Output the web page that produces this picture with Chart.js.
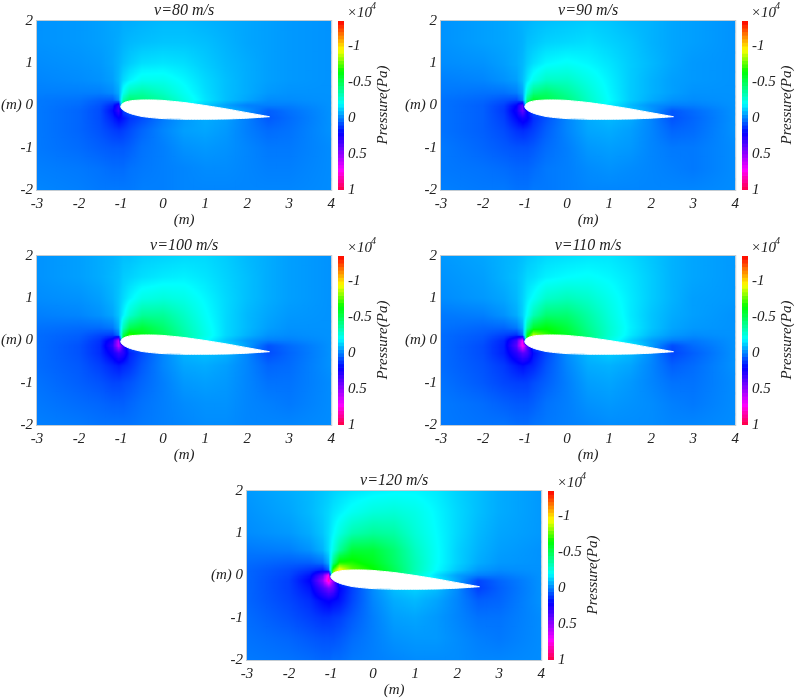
<!DOCTYPE html>
<html>
<head>
<meta charset="utf-8">
<script src="https://cdn.jsdelivr.net/npm/chart.js@4"></script>
<style>
  html, body { margin: 0; background: #fff; overflow: hidden; }
  #page { position: relative; width: 796px; height: 699px; overflow: hidden; }
  canvas { position: absolute; }
</style>
</head>
<body>
<div id="page"></div>
<script>
// --- DATA ---
const xNodes = [-3, -2, -1.5, -1.2, -1.05, -0.95, -0.8, -0.5, 0, 0.5, 1, 1.5, 2, 2.5, 3, 4];
const yNodes = [2, 1.5, 1, 0.6, 0.3, 0.12, 0, -0.12, -0.3, -0.6, -1, -1.5, -2];
const xTicks = [-3, -2, -1, 0, 1, 2, 3, 4];
const yTicks = [-2, -1, 0, 1, 2];
const colorTicks = [-1, -0.5, 0, 0.5, 1];
const colorBands = [-1.35, -1.3, -1.25, -1.2, -1.15, -1.1, -1.05, -1, -0.95, -0.9, -0.85, -0.8, -0.75, -0.7, -0.65, -0.6, -0.55, -0.5, -0.45, -0.4, -0.35, -0.3, -0.25, -0.2, -0.15, -0.1, -0.05, 0, 0.05, 0.1, 0.15, 0.2, 0.25, 0.3, 0.35, 0.4, 0.45, 0.5, 0.55, 0.6, 0.65, 0.7, 0.75, 0.8, 0.85, 0.9, 0.95, 1];

const airfoilX = [-1.01, -0.98, -0.9, -0.75, -0.5, -0.25, 0, 0.5, 1, 1.5, 2, 2.53];
const airfoilUpper = [-0.03, 0.03, 0.08, 0.115, 0.13, 0.13, 0.12, 0.07, 0, -0.08, -0.17, -0.265];
const airfoilLower = [-0.03, -0.08, -0.14, -0.2, -0.26, -0.29, -0.31, -0.325, -0.325, -0.32, -0.3, -0.265];

const pressure80 = [
  [-.03,-.04,-.05,-.06,-.06,-.07,-.07,-.08,-.09,-.09,-.08,-.07,-.06,-.05,-.04,-.03],
  [-.03,-.04,-.05,-.06,-.07,-.08,-.09,-.10,-.11,-.11,-.10,-.08,-.06,-.05,-.04,-.03],
  [-.02,-.03,-.04,-.06,-.08,-.10,-.12,-.15,-.16,-.15,-.12,-.09,-.07,-.05,-.04,-.03],
  [-.01,-.02,-.03,-.05,-.09,-.14,-.18,-.23,-.23,-.19,-.14,-.10,-.07,-.05,-.04,-.03],
  [0,0,0,-.02,-.07,-.22,-.33,-.36,-.30,-.22,-.15,-.10,-.07,-.04,-.03,-.03],
  [.01,.02,.05,.06,-.02,-.35,-.46,-.43,-.36,-.25,-.16,-.10,-.06,-.02,-.02,-.03],
  [.01,.03,.07,.14,.30,-.55,-.50,-.45,-.30,-.20,-.12,-.05,0,0,0,-.03],
  [.01,.04,.08,.18,.32,.10,.05,0,-.10,-.14,-.14,-.10,-.03,.05,.02,-.03],
  [.01,.04,.08,.15,.20,.17,.12,.08,.01,-.04,-.07,-.05,0,.06,.03,-.03],
  [.01,.04,.07,.10,.11,.10,.08,.04,-.01,-.05,-.06,-.04,0,.03,.02,-.03],
  [.01,.03,.05,.06,.06,.06,.05,.02,0,-.03,-.04,-.03,-.01,.01,.01,-.02],
  [0,.01,.02,.03,.03,.03,.02,.01,0,-.01,-.02,-.02,-.01,0,0,-.02],
  [-.01,0,.01,.01,.01,.01,.01,0,0,-.01,-.01,-.01,-.01,-.01,-.01,-.02]
];
const pressure90 = [
  [-.03,-.05,-.06,-.07,-.08,-.08,-.09,-.1,-.11,-.12,-.11,-.09,-.08,-.06,-.05,-.03],
  [-.03,-.05,-.06,-.07,-.08,-.1,-.11,-.13,-.14,-.15,-.13,-.11,-.08,-.06,-.05,-.03],
  [-.02,-.03,-.05,-.07,-.09,-.12,-.15,-.19,-.21,-.19,-.16,-.12,-.09,-.06,-.04,-.03],
  [0,-.01,-.03,-.05,-.1,-.16,-.23,-.3,-.3,-.24,-.18,-.12,-.08,-.05,-.04,-.03],
  [.01,.02,.02,0,-.06,-.27,-.42,-.46,-.38,-.28,-.19,-.12,-.08,-.05,-.03,-.03],
  [.02,.04,.07,.09,0,-.42,-.58,-.52,-.43,-.3,-.2,-.12,-.07,-.03,-.02,-.03],
  [.02,.05,.1,.2,.42,-.6,-.65,-.55,-.4,-.28,-.18,-.09,-.03,0,0,-.03],
  [.02,.05,.11,.23,.42,.2,.08,0,-.12,-.18,-.18,-.12,-.04,.06,.03,-.03],
  [.02,.05,.1,.19,.24,.21,.13,.07,-.01,-.07,-.09,-.07,-.01,.07,.04,-.03],
  [.02,.05,.08,.12,.13,.12,.1,.05,-.01,-.06,-.07,-.05,-.01,.04,.03,-.03],
  [.01,.04,.06,.07,.07,.07,.06,.03,0,-.04,-.05,-.04,-.01,.01,.01,-.02],
  [.01,.02,.03,.04,.04,.04,.03,.01,0,-.02,-.03,-.02,-.01,0,.01,-.02],
  [0,.01,.01,.02,.02,.02,.01,.01,0,-.01,-.01,-.01,-.01,-.01,-.01,-.02]
];
const pressure100 = [
  [-.03,-.05,-.07,-.08,-.09,-.1,-.1,-.12,-.13,-.14,-.14,-.12,-.09,-.07,-.05,-.03],
  [-.03,-.05,-.07,-.09,-.1,-.12,-.13,-.15,-.17,-.18,-.16,-.13,-.1,-.07,-.05,-.03],
  [-.02,-.03,-.05,-.08,-.11,-.14,-.18,-.24,-.26,-.24,-.19,-.14,-.1,-.07,-.05,-.03],
  [0,-.01,-.03,-.06,-.11,-.18,-.28,-.38,-.38,-.3,-.21,-.14,-.09,-.06,-.04,-.03],
  [.02,.03,.03,.01,-.07,-.32,-.5,-.55,-.46,-.34,-.23,-.14,-.09,-.05,-.03,-.03],
  [.03,.05,.09,.11,.02,-.5,-.72,-.62,-.5,-.36,-.24,-.14,-.08,-.03,-.02,-.03],
  [.03,.06,.12,.25,.6,-.7,-.8,-.68,-.48,-.33,-.21,-.11,-.04,0,0,-.03],
  [.03,.07,.13,.3,.62,.3,.09,0,-.15,-.22,-.22,-.15,-.05,.07,.03,-.03],
  [.03,.07,.13,.23,.32,.28,.15,.08,-.01,-.08,-.1,-.08,-.01,.08,.04,-.03],
  [.03,.06,.1,.14,.16,.14,.12,.06,-.01,-.06,-.07,-.05,-.01,.04,.03,-.03],
  [.02,.05,.07,.09,.09,.08,.07,.04,0,-.04,-.05,-.04,-.01,.02,.02,-.02],
  [.01,.03,.04,.05,.05,.05,.04,.02,0,-.02,-.03,-.03,-.01,0,.01,-.02],
  [0,.01,.02,.02,.02,.02,.02,.01,0,-.01,-.02,-.02,-.01,-.01,-.01,-.02]
];
const pressure110 = [
  [-.04,-.06,-.08,-.09,-.1,-.11,-.12,-.14,-.15,-.16,-.16,-.14,-.11,-.08,-.06,-.04],
  [-.03,-.05,-.08,-.1,-.12,-.14,-.15,-.18,-.2,-.21,-.19,-.16,-.12,-.08,-.06,-.04],
  [-.02,-.04,-.06,-.09,-.13,-.17,-.21,-.29,-.32,-.29,-.23,-.17,-.12,-.08,-.05,-.04],
  [.01,0,-.03,-.07,-.13,-.21,-.33,-.45,-.45,-.36,-.26,-.17,-.11,-.07,-.05,-.03],
  [.02,.04,.04,.01,-.07,-.37,-.57,-.63,-.54,-.4,-.28,-.18,-.11,-.06,-.04,-.03],
  [.03,.06,.1,.13,.03,-.6,-.88,-.72,-.58,-.43,-.28,-.17,-.09,-.04,-.02,-.03],
  [.03,.07,.14,.33,.72,-.8,-.9,-.8,-.56,-.39,-.25,-.13,-.05,0,.01,-.03],
  [.03,.08,.15,.38,.76,.38,.1,0,-.18,-.26,-.26,-.18,-.05,.08,.03,-.03],
  [.03,.08,.15,.28,.38,.34,.18,.09,-.02,-.09,-.12,-.09,-.02,.09,.05,-.03],
  [.03,.07,.11,.16,.18,.16,.14,.07,-.01,-.07,-.08,-.06,-.01,.05,.03,-.03],
  [.02,.06,.09,.1,.1,.1,.08,.05,0,-.05,-.06,-.04,-.01,.02,.02,-.02],
  [.01,.03,.05,.06,.06,.06,.05,.02,0,-.03,-.04,-.03,-.02,0,.01,-.02],
  [.01,.02,.02,.03,.03,.03,.02,.01,0,-.01,-.02,-.02,-.02,-.01,-.01,-.02]
];
const pressure120 = [
  [-.04,-.07,-.09,-.11,-.12,-.13,-.14,-.16,-.18,-.19,-.19,-.17,-.13,-.1,-.07,-.04],
  [-.03,-.06,-.09,-.12,-.14,-.16,-.18,-.22,-.26,-.27,-.24,-.19,-.14,-.1,-.07,-.04],
  [-.02,-.04,-.07,-.11,-.15,-.19,-.25,-.34,-.38,-.36,-.27,-.2,-.14,-.09,-.06,-.04],
  [.01,0,-.03,-.08,-.15,-.24,-.38,-.55,-.55,-.45,-.31,-.21,-.13,-.08,-.05,-.03],
  [.03,.05,.05,.02,-.08,-.42,-.68,-.68,-.6,-.47,-.33,-.21,-.13,-.07,-.04,-.03],
  [.04,.08,.12,.16,.05,-.75,-1,-.78,-.66,-.5,-.33,-.2,-.11,-.04,-.02,-.03],
  [.04,.09,.17,.4,.78,-.9,-1,-.9,-.65,-.45,-.3,-.15,-.05,0,.01,-.03],
  [.04,.1,.2,.5,.85,.5,.1,0,-.2,-.3,-.3,-.2,-.06,.09,.04,-.03],
  [.04,.1,.17,.35,.45,.4,.2,.1,-.02,-.1,-.13,-.1,-.02,.1,.05,-.03],
  [.04,.09,.13,.19,.21,.19,.17,.09,-.01,-.07,-.09,-.06,-.01,.05,.04,-.03],
  [.03,.07,.1,.12,.12,.11,.1,.06,0,-.05,-.06,-.04,-.01,.02,.02,-.02],
  [.02,.04,.06,.07,.07,.07,.06,.03,0,-.03,-.04,-.04,-.02,0,.01,-.02],
  [.01,.02,.03,.04,.04,.03,.03,.01,0,-.01,-.02,-.02,-.02,-.01,-.01,-.02]
];

// --- PANELES ---
const PANELES = [
  { titulo: 'v=80 m/s', presion: pressure80, left: 0, top: 0 },
  { titulo: 'v=90 m/s', presion: pressure90, left: 404, top: 0 },
  { titulo: 'v=100 m/s', presion: pressure100, left: 0, top: 235 },
  { titulo: 'v=110 m/s', presion: pressure110, left: 404, top: 235 },
  { titulo: 'v=120 m/s', presion: pressure120, left: 210, top: 470 }
];

const FUENTE = 'italic 15px "Liberation Serif"';
const fuente = { family: '"Liberation Serif"', size: 15, style: 'italic', weight: 'normal', lineHeight: 1.2 };
const COLOR_TEXTO = '#222';
const COLOR_MARCO = '#c3ccd3';

// mapa de color de la barra lateral
const PARADAS = [
  [-1.35, 255, 0, 0],
  [-0.95, 255, 255, 0],
  [-0.65, 0, 255, 0],
  [-0.2, 0, 255, 255],
  [0.2, 0, 0, 255],
  [0.72, 255, 0, 255],
  [1, 255, 0, 64]
];

function colorDe(v) {
  if (v <= PARADAS[0][0]) return PARADAS[0].slice(1);
  for (let i = 1; i < PARADAS.length; i++) {
    const b = PARADAS[i];
    if (v <= b[0]) {
      const a = PARADAS[i - 1];
      const t = (v - a[0]) / (b[0] - a[0]);
      return [1, 2, 3].map(k => a[k] + (b[k] - a[k]) * t);
    }
  }
  return PARADAS[PARADAS.length - 1].slice(1);
}

function tramo(nodos, valor) {
  let i = 0;
  const sube = nodos[1] > nodos[0];
  while (i < nodos.length - 2 && (sube ? valor > nodos[i + 1] : valor < nodos[i + 1])) i++;
  const t = (valor - nodos[i]) / (nodos[i + 1] - nodos[i]);
  return [i, Math.min(1, Math.max(0, t))];
}

// sombreado tipo "shading interp" entre los nodos leidos
function presionEn(grid, x, y) {
  const [i, tx] = tramo(xNodes, x);
  const [j, ty] = tramo(yNodes, y);
  const arriba = grid[j][i] + (grid[j][i + 1] - grid[j][i]) * tx;
  const abajo = grid[j + 1][i] + (grid[j + 1][i + 1] - grid[j + 1][i]) * tx;
  return arriba + (abajo - arriba) * ty;
}

// cada nodo se dibuja como un punto cuyo pointStyle es su celda ya sombreada
function celdaDeNodo(chart, grid, i, j) {
  const sx = chart.scales.x;
  const sy = chart.scales.y;
  const cx = sx.getPixelForValue(xNodes[i]);
  const cy = sy.getPixelForValue(yNodes[j]);
  const izq = i > 0 ? (cx - sx.getPixelForValue(xNodes[i - 1])) / 2 : 0;
  const der = i < xNodes.length - 1 ? (sx.getPixelForValue(xNodes[i + 1]) - cx) / 2 : 0;
  const sup = j > 0 ? (cy - sy.getPixelForValue(yNodes[j - 1])) / 2 : 0;
  const inf = j < yNodes.length - 1 ? (sy.getPixelForValue(yNodes[j + 1]) - cy) / 2 : 0;

  const c = document.createElement('canvas');
  c.width = Math.ceil(2 * Math.max(izq, der)) + 6;
  c.height = Math.ceil(2 * Math.max(sup, inf)) + 6;
  const g = c.getContext('2d');
  const img = g.createImageData(c.width, c.height);
  for (let b = 0; b < c.height; b++) {
    for (let a = 0; a < c.width; a++) {
      const dx = a + 0.5 - c.width / 2;
      const dy = b + 0.5 - c.height / 2;
      if (dx < -izq - 1.5 || dx > der + 1.5 || dy < -sup - 1.5 || dy > inf + 1.5) continue;
      const v = presionEn(grid, sx.getValueForPixel(cx + dx), sy.getValueForPixel(cy + dy));
      const rgb = colorDe(v);
      const p = (b * c.width + a) * 4;
      img.data[p] = rgb[0];
      img.data[p + 1] = rgb[1];
      img.data[p + 2] = rgb[2];
      img.data[p + 3] = 255;
    }
  }
  g.putImageData(img, 0, 0);
  return c;
}

const marcoPlugin = {
  id: 'marco',
  afterDatasetsDraw(chart) {
    const a = chart.chartArea;
    const ctx = chart.ctx;
    ctx.save();
    ctx.strokeStyle = COLOR_MARCO;
    ctx.lineWidth = 1;
    ctx.strokeRect(a.left - 0.5, a.top - 0.5, a.right - a.left + 1, a.bottom - a.top + 1);
    ctx.restore();
  }
};

const textosBarraPlugin = {
  id: 'textosBarra',
  afterDraw(chart) {
    const ctx = chart.ctx;
    ctx.save();
    ctx.fillStyle = COLOR_TEXTO;
    ctx.font = FUENTE;
    ctx.textBaseline = 'alphabetic';
    ctx.fillText('×10', 9, 17);
    ctx.font = 'italic 10px "Liberation Serif"';
    ctx.fillText('4', 33, 9);
    ctx.font = FUENTE;
    ctx.translate(45, 105);
    ctx.rotate(-Math.PI / 2);
    ctx.textAlign = 'center';
    ctx.textBaseline = 'middle';
    ctx.fillText('Pressure(Pa)', 0, 0);
    ctx.restore();
  }
};

function crearCanvas(left, top, ancho, alto) {
  const c = document.createElement('canvas');
  c.width = ancho;
  c.height = alto;
  c.style.left = left + 'px';
  c.style.top = top + 'px';
  c.style.width = ancho + 'px';
  c.style.height = alto + 'px';
  document.getElementById('page').appendChild(c);
  return c;
}

function crearCampo(panel) {
  const nodos = [];
  yNodes.forEach((y, j) => xNodes.forEach((x, i) => nodos.push({ x, y, v: panel.presion[j][i] })));
  const cache = {};

  new Chart(crearCanvas(panel.left, panel.top, 340, 229), {
    type: 'scatter',
    data: {
      datasets: [
        {
          data: airfoilX.map((x, i) => ({ x, y: airfoilUpper[i] })),
          showLine: true, fill: '+1', tension: 0.2, pointRadius: 0,
          backgroundColor: '#fff', borderColor: '#fff', borderWidth: 1
        },
        {
          data: airfoilX.map((x, i) => ({ x, y: airfoilLower[i] })),
          showLine: true, tension: 0.2, pointRadius: 0,
          borderColor: '#fff', borderWidth: 1
        },
        {
          data: nodos,
          pointRadius: 1,
          pointBorderWidth: 0,
          pointStyle(ctx) {
            const n = ctx.dataIndex;
            // antes del primer layout las escalas aun no tienen pixeles
            if (n === undefined || !ctx.chart.chartArea || !ctx.chart.scales.x) return 'circle';
            if (!Number.isFinite(ctx.chart.scales.x.getPixelForValue(0))) return 'circle';
            if (!cache[n]) {
              cache[n] = celdaDeNodo(ctx.chart, panel.presion, n % xNodes.length, Math.floor(n / xNodes.length));
            }
            return cache[n];
          }
        }
      ]
    },
    options: {
      responsive: false,
      animation: false,
      events: [],
      layout: { padding: { right: 8 } },
      plugins: {
        legend: { display: false },
        tooltip: { enabled: false },
        title: {
          display: true, text: panel.titulo, fullSize: false, color: COLOR_TEXTO,
          font: { ...fuente, size: 16 }, padding: { top: 1.4, bottom: 0.4 }
        }
      },
      scales: {
        x: {
          type: 'linear', min: -3, max: 4,
          afterBuildTicks: s => { s.ticks = xTicks.map(value => ({ value })); },
          afterFit: s => { s.height = 39; },
          grid: { display: false, drawTicks: false },
          border: { color: COLOR_MARCO },
          ticks: { color: COLOR_TEXTO, font: fuente, padding: 5, maxRotation: 0, callback: v => String(v) },
          title: { display: true, text: '(m)', color: COLOR_TEXTO, font: fuente, padding: 0 }
        },
        y: {
          type: 'linear', min: -2, max: 2,
          afterBuildTicks: s => { s.ticks = yTicks.map(value => ({ value })); },
          afterFit: s => { s.width = 37; },
          grid: { display: false, drawTicks: false },
          border: { color: COLOR_MARCO },
          ticks: { color: COLOR_TEXTO, font: fuente, padding: 4, callback: v => (v === 0 ? '(m) 0' : String(v)) }
        }
      }
    },
    plugins: [marcoPlugin]
  });
}

function crearBarra(panel) {
  new Chart(crearCanvas(panel.left + 338, panel.top, 55, 229), {
    type: 'bar',
    data: {
      labels: ['Pressure'],
      datasets: colorBands.slice(0, -1).map((lo, i) => {
        const hi = colorBands[i + 1];
        const rgb = colorDe((lo + hi) / 2).map(Math.round);
        return { data: [[lo, hi]], backgroundColor: `rgb(${rgb.join(',')})`, grouped: false, barPercentage: 1, categoryPercentage: 1 };
      })
    },
    options: {
      responsive: false,
      animation: false,
      events: [],
      layout: { padding: { top: 21, bottom: 39 } },
      plugins: { legend: { display: false }, tooltip: { enabled: false } },
      scales: {
        x: { display: false },
        y: {
          type: 'linear', position: 'right', reverse: true, min: -1.35, max: 1,
          afterBuildTicks: s => { s.ticks = colorTicks.map(value => ({ value })); },
          afterFit: s => { s.width = 49; },
          grid: { display: false, drawTicks: false },
          border: { display: false },
          ticks: { color: COLOR_TEXTO, font: fuente, padding: 4, callback: v => String(v) }
        }
      }
    },
    plugins: [textosBarraPlugin]
  });
}

PANELES.forEach(panel => {
  crearCampo(panel);
  crearBarra(panel);
});
</script>
</body>
</html>
